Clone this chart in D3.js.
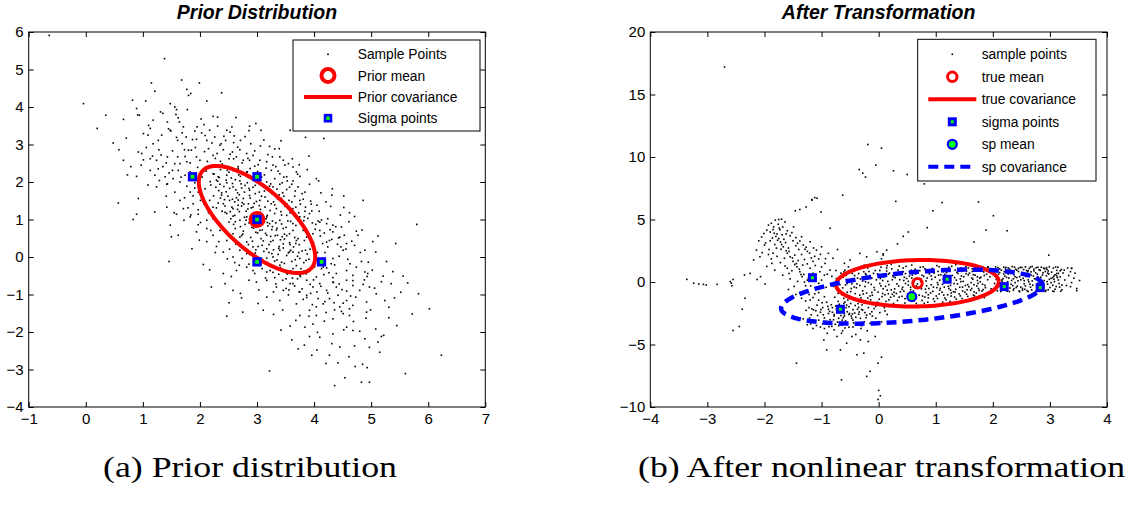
<!DOCTYPE html>
<html>
<head>
<meta charset="utf-8">
<script src="https://cdn.jsdelivr.net/npm/d3@7"></script>
<style>
    body { margin: 0; background: #fff; }
    svg { display: block; font-family: "Liberation Sans", Arial, sans-serif; }
</style>
</head>
<body>
<svg id="chart" width="1138" height="512"></svg>
<script>
// ---- panel (a): prior distribution ----
const priorSamples = [
    [1.15,4.64],[1.68,4.72],[1.99,4.64],[1.77,4.47],[1.84,4.36],[1.80,4.31],[-0.04,4.09],[0.82,4.18],[1.05,4.16],[2.12,4.16],
    [1.48,4.09],[1.56,4.00],[1.59,3.93],[1.38,5.29],[-0.64,5.91],[0.89,3.96],[0.91,3.79],
    [0.66,3.67],[0.94,3.78],[1.31,3.87],[1.35,3.83],[1.58,3.80],[2.23,3.75],[2.63,3.72],[1.18,3.65],[1.64,3.60],[1.43,3.60],[1.10,3.51],[2.98,3.56],
    [0.20,3.43],[1.13,3.43],[1.48,3.38],[1.91,3.36],[1.95,3.47],[2.03,3.31],[2.17,3.38],[2.47,3.38],[3.07,3.38],[1.01,3.29],[1.33,3.25],
    [2.60,3.23],[1.27,3.11],[1.59,3.19],[1.76,3.20],[2.12,3.11],[2.26,3.20],[2.45,3.11],[3.42,3.10],[3.85,3.19],[4.17,3.16],[0.48,3.04],
    [1.80,2.85],[1.85,2.85],[2.15,2.89],[2.35,2.98],[2.57,2.80],[2.70,2.86],[2.82,2.76],[2.96,2.83],[3.22,2.95],[0.92,2.80],[0.98,2.76],
    [0.66,2.58],[1.13,2.62],[1.24,2.58],[1.43,2.67],[1.94,2.67],[2.23,2.71],[2.30,2.76],[2.51,2.62],[2.64,2.67],[2.93,2.71],[3.40,2.67],[3.91,2.69],
    [1.56,2.49],[1.65,2.49],[1.77,2.54],[2.00,2.58],[2.76,2.58],[2.87,2.58],[3.05,2.58],[3.17,2.54],[3.28,2.45],[3.46,2.58],[3.55,2.49],[3.63,2.40],
    [1.13,2.31],[1.46,2.24],[1.62,2.31],[0.89,2.15],[1.39,2.14],[1.53,2.09],[1.74,2.18],[2.23,2.22],[2.32,2.14],[2.47,2.18],[2.58,2.31],[2.67,2.36],
    [2.82,2.27],[3.25,2.31],[3.40,2.22],[3.52,2.14],[3.69,2.27],[3.75,2.15],[4.04,2.09],
    [1.65,2.00],[1.77,1.89],[1.91,1.98],[2.09,1.82],[2.29,2.05],[2.35,1.94],[2.47,1.98],[2.58,1.87],[2.70,2.03],[2.79,1.91],[2.87,1.78],[3.17,2.00],
    [3.28,1.87],[3.40,1.94],[3.52,1.80],[3.63,2.03],[3.72,1.87],[3.84,1.73],[4.32,1.82],[1.24,1.87],[1.42,1.94],[1.56,1.73],[1.83,1.73],[1.97,1.73],
    [0.92,1.56],[1.21,1.20],[1.42,1.33],[1.65,1.51],[1.71,1.29],[1.88,1.42],[1.97,1.26],[2.06,1.60],[2.17,1.51],[2.23,1.33],[2.38,1.65],[2.41,1.42],
    [2.52,1.51],[2.58,1.29],[2.61,1.11],[2.67,1.38],[2.76,1.56],[2.85,1.42],[2.93,1.33],[3.05,1.51],[3.14,1.60],[3.25,1.42],[3.34,1.29],[3.43,1.56],
    [3.52,1.42],[3.63,1.29],[3.75,1.51],[3.85,1.33],[3.95,1.41],[4.05,1.38],[4.86,1.51],[0.57,1.44],[0.89,1.14],
    [0.83,1.00],[1.59,1.14],[1.83,1.07],[1.97,1.14],[2.12,0.98],[2.23,1.02],[2.35,0.89],[2.47,1.16],[2.58,1.09],[2.70,0.98],[2.82,1.07],[3.17,1.07],
    [3.22,0.89],[3.31,1.16],[3.40,0.98],[3.52,1.11],[3.63,0.89],[3.75,1.07],[3.92,1.16],[4.10,0.93],[4.22,0.89],[4.33,0.85],[4.48,0.80],[4.07,0.96],[5.80,0.87],
    [1.48,0.85],[1.94,0.67],[2.12,0.76],[2.23,0.58],[2.35,0.71],[2.47,0.44],[2.58,0.62],[2.70,0.53],[2.82,0.40],[3.05,0.71],[3.17,0.58],[3.28,0.44],
    [3.46,0.76],[3.57,0.62],[3.69,0.44],[3.81,0.71],[3.87,0.53],[3.98,0.62],[4.10,0.71],[4.22,0.40],[4.33,0.67],[4.45,0.53],[4.57,0.36],[4.74,0.69],[4.77,0.58],[4.27,0.44],
    [2.41,0.13],[2.58,0.00],[2.70,0.18],[2.82,0.09],[2.93,0.27],[3.17,0.22],[3.28,0.00],[3.40,0.18],[3.52,0.04],[3.63,0.13],[3.75,-0.04],[3.98,0.31],
    [4.24,0.27],[4.33,-0.04],[4.51,0.18],[4.89,0.18],[5.08,0.13],[1.46,-0.12],[2.06,-0.20],[1.50,0.54],
    [2.17,-0.34],[2.41,-0.44],[2.64,-0.36],[2.82,-0.27],[2.96,-0.44],[3.17,-0.40],[3.40,-0.22],[3.52,-0.44],[3.63,-0.31],[3.75,-0.49],[3.92,-0.36],
    [4.04,-0.53],[4.16,-0.27],[4.30,-0.18],[4.39,-0.44],[4.57,-0.36],[4.68,-0.49],[4.89,-0.40],[4.93,-0.52],[4.94,-0.44],
    [2.20,-0.80],[2.58,-0.89],[2.99,-0.67],[3.17,-0.62],[3.34,-0.80],[3.46,-0.89],[3.63,-0.71],[3.75,-0.93],[3.87,-0.62],[3.98,-0.80],[4.10,-0.71],
    [4.22,-0.89],[4.33,-0.67],[4.39,-0.80],[4.57,-0.62],[4.68,-0.76],[4.80,-0.89],[4.97,-0.80],[5.35,-0.71],[5.64,-0.69],
    [2.73,-1.09],[3.17,-1.07],[3.40,-1.16],[3.69,-1.25],[3.87,-1.02],[4.04,-1.33],[4.16,-1.25],[4.27,-1.11],[4.45,-1.33],[4.57,-1.16],[4.68,-1.29],
    [4.92,-1.20],[5.09,-0.98],[5.24,-1.16],[5.41,-1.09],[2.51,-1.22],
    [2.47,-1.58],[2.75,-1.47],[3.11,-1.42],[3.75,-1.56],[3.92,-1.42],[4.04,-1.56],[4.33,-1.65],[4.51,-1.51],[4.62,-1.56],[4.92,-1.47],[3.84,-1.87],[4.57,-1.87],
    [3.92,-2.12],[4.10,-2.14],[4.33,-2.05],[4.68,-1.96],[4.80,-1.98],[4.89,-2.18],[5.18,-2.12],[5.22,-2.09],
    [4.27,-2.62],[4.45,-2.40],[5.15,-2.54],[6.23,-2.62],[3.22,-3.04],[4.85,-2.86],[5.60,-3.11],[4.36,-3.43],[4.54,-3.22],[4.83,-3.34],[4.97,-3.34],
    [2.31,2.02],[2.42,1.88],[2.55,2.11],[2.63,1.79],[2.72,1.95],[2.85,2.12],[2.93,1.86],[3.02,2.04],[3.12,1.92],[3.21,1.78],[2.38,1.71],[2.49,1.62],
    [2.61,1.47],[2.69,1.66],[2.78,1.73],[2.88,1.57],[2.97,1.69],[3.08,1.62],[3.19,1.49],[3.27,1.68],[3.36,1.55],[3.45,1.71],[2.44,1.36],[2.53,1.21],
    [2.66,1.27],[2.74,1.45],[2.81,1.22],[2.90,1.31],[2.99,1.48],[3.06,1.19],[3.14,1.33],[3.23,1.24],[3.31,1.39],[3.42,1.21],[3.49,1.35],[3.58,1.18],
    [2.62,0.94],[2.71,0.81],[2.78,1.06],[2.86,0.91],[2.94,0.77],[3.03,0.86],[3.11,1.03],[3.19,0.83],[3.27,0.96],[3.34,0.72],[3.43,0.88],[3.51,0.79],
    [3.59,0.95],[3.68,0.84],[2.75,0.61],[2.89,0.52],[2.98,0.66],[3.07,0.49],[3.15,0.63],[3.24,0.41],[3.32,0.57],[3.41,0.46],[3.48,0.61],[3.57,0.38],
    [3.66,0.52],[3.74,0.33],[3.83,0.44],[3.02,0.28],[3.12,0.15],[3.21,0.33],[3.29,0.19],[3.37,0.07],[3.46,0.24],[3.55,0.11],[3.64,0.27],[3.71,0.02],
    [3.79,0.16],[3.88,0.08],[3.93,0.21],[3.35,-0.08],[3.48,-0.17],[3.61,-0.12],[3.69,-0.23],[3.82,-0.15],[3.91,-0.06],[2.25,2.21],[2.36,2.33],[2.51,2.26],
    [2.67,2.41],[2.88,2.36],[3.01,2.28],[3.13,2.19],[3.31,2.09],[3.44,1.98],[3.57,1.86],[3.66,1.62],[3.76,1.41],[3.84,1.22],[3.89,1.03],[3.97,0.91],
    [4.02,0.74],[4.11,0.56],[4.15,0.36],[4.19,0.12],[4.08,-0.05],[4.13,-0.31],[4.26,-0.42],[4.36,-0.21],[4.44,0.02],[4.41,0.34],[2.15,1.18],[2.07,1.41],
    [2.01,0.92],[1.88,1.63],[1.79,1.31],[1.72,0.98],[2.19,0.71],[2.33,0.41],[2.27,0.12],[2.52,0.21],[2.61,-0.15],[2.74,-0.04],[2.86,-0.19],[3.01,-0.08],
    [3.09,-0.31],[3.22,-0.21],[3.31,-0.55],[3.45,-0.62],[3.58,-0.71],[3.71,-0.58],[3.86,-0.45],[3.99,-0.61],[4.05,-0.93],[3.81,-1.13],[3.55,-1.01],[3.29,-0.93],
    [3.03,-0.88],[2.86,-0.62],[2.55,-0.52],[1.99,0.45],[1.86,0.22],[1.62,0.58],[1.55,1.18],[1.41,1.62],[1.35,2.41],[1.21,2.18],[1.09,1.92],[0.97,2.45],
    [1.28,2.86],[1.69,3.02],[1.94,3.14],[2.13,2.55],[2.41,2.86],[2.59,3.05],[2.79,3.21],[3.06,2.96],[3.27,2.67],[3.49,2.45],[3.71,2.21],[3.92,1.94],
    [4.12,1.71],[4.29,1.35],[4.46,1.12],[4.61,0.94],[4.71,0.31],[4.83,-0.12],[4.63,-0.18],[5.02,-0.35],[5.21,-0.51],[4.99,-1.41],[4.42,-1.02],[4.21,-1.48],
    [3.68,-1.69],[3.45,-1.41],[3.98,-1.79],[4.69,-1.72],[4.31,-2.31],[4.05,-2.48],[3.61,-2.21],[4.61,-2.66],[4.93,-2.95],[5.45,-1.83],[5.72,-1.52],[6.02,-1.38],
    [2.14,2.37],[2.27,2.63],[2.39,2.48],[2.46,2.05],[2.53,2.74],[2.68,2.19],[2.74,2.51],[2.83,1.98],[2.96,2.42],[3.04,1.73],[3.16,2.37],[3.24,1.95],
    [3.33,2.41],[3.39,1.66],[3.47,2.13],[3.56,1.51],[3.61,1.94],[3.68,1.33],[3.79,1.69],[3.83,1.07],[3.94,1.49],[4.03,0.87],[4.09,1.22],[4.18,0.64],
    [4.24,1.02],[4.31,0.47],[4.38,0.81],[4.47,0.27],[4.53,0.58],[4.59,-0.06],[4.66,0.42],[4.74,-0.27],[4.81,0.12],[4.88,-0.61],[4.95,-0.14],[5.06,-0.83],
    [1.74,2.68],[1.83,2.27],[1.92,2.92],[2.04,2.13],[2.08,2.81],[2.19,1.92],[2.21,3.04],[2.33,1.77],[2.42,3.22],[2.57,1.54],[2.66,2.93],[2.73,1.36],
    [2.84,2.63],[2.91,1.14],[3.02,2.46],[3.13,0.95],[3.19,2.73],[3.26,0.73],[3.37,2.29],[3.44,0.54],[3.53,2.03],[3.58,0.33],[3.67,1.76],[3.73,0.12],
    [3.81,1.54],[3.86,-0.09],[3.96,1.23],[4.01,-0.26],[4.13,0.99],[4.17,-0.47],[4.28,0.73],[4.34,-0.68],[4.43,0.51],[4.49,-0.87],[4.56,0.21],[4.64,-1.04],
    [2.36,1.57],[2.44,1.19],[2.52,1.83],[2.59,0.87],[2.67,1.52],[2.76,0.69],[2.84,1.28],[2.92,0.42],[3.01,1.11],[3.09,0.31],[3.18,0.92],[3.26,0.09],
    [3.35,0.77],[3.43,-0.14],[3.52,0.57],[3.59,-0.37],[3.68,0.36],[3.76,-0.52],[3.85,0.18],[3.93,-0.73],[2.29,1.31],[2.41,0.72],[2.54,1.02],[2.63,0.34],
    [2.79,0.87],[2.87,0.07],[2.98,0.19],[3.07,-0.19],[3.17,-0.03],[3.28,-0.41],[3.39,0.28],[3.51,-0.84],[3.62,-0.56],[3.74,-0.93],[3.87,-1.08],[3.97,-1.27],
    [1.49,3.36],[1.62,3.71],[1.71,3.47],[1.78,3.93],[1.87,3.13],[2.02,3.68],[2.09,3.24],[2.31,3.49],[2.37,3.02],[2.53,3.33],[2.71,3.11],[2.89,3.02],
    [1.32,2.72],[1.18,3.02],[1.06,2.92],[1.52,2.31],[1.61,2.67],[1.27,2.35],[1.43,1.95],[1.67,2.13],[1.73,1.58],[1.91,1.84],[2.01,1.51],[2.11,2.29],
    [4.12,-0.78],[4.24,-0.96],[4.35,-1.22],[4.48,-1.45],[4.62,-1.38],[4.73,-1.07],[4.86,-0.73],[4.91,-1.63],[4.52,-1.94],[4.18,-1.71],[3.91,-1.58],[4.06,-2.01],
    [3.56,-0.88],[3.33,-0.72],[3.15,-0.56],[2.93,-0.36],[2.69,-0.22],[2.48,-0.05],[2.29,0.28],[2.12,0.41],[1.97,0.86],[1.84,1.12],[2.44,-0.71],[2.71,-0.97],
    [3.02,-1.24],[3.29,-1.53],[3.58,-1.84],[3.83,-2.35],[4.42,-2.82],[4.71,-2.37],[5.08,-1.92],[5.31,-1.34],[5.18,-0.66],[5.52,-0.94],[5.03,0.41],[4.62,1.18],
    [4.21,1.47],[3.74,2.46],[3.31,2.88],[2.86,3.37],[0.73,2.19],[0.58,2.86],[0.35,3.78],[1.21,4.42],[2.38,4.38],[3.58,3.38],[4.52,1.63],[5.43,0.36],
    [2.46,1.74],[2.57,1.96],[2.64,1.58],[2.71,2.15],[2.77,1.41],[2.86,1.83],[2.92,1.02],[2.97,1.91],[3.04,1.37],[3.09,0.72],[3.13,1.76],[3.18,1.11],
    [3.24,0.55],[3.29,1.47],[3.33,0.91],[3.38,0.23],[3.43,1.12],[3.48,0.48],[3.54,0.96],[3.59,0.18],[3.63,0.71],[3.67,-0.07],[3.72,0.49],[3.77,-0.31],
    [2.34,2.12],[2.43,1.53],[2.51,2.41],[2.56,1.33],[2.62,2.06],[2.69,1.21],[2.73,1.84],[2.81,0.98],[2.87,1.64],[2.91,0.79],[2.95,1.43],[3.01,0.64],
    [3.06,1.27],[3.11,0.43],[3.16,1.02],[3.21,0.12],[3.27,0.81],[3.31,-0.11],[3.36,0.58],[3.41,-0.28],[3.46,0.35],[3.53,-0.45],[3.57,0.14],[3.65,-0.42],
    [2.21,2.44],[2.28,1.86],[2.36,2.55],[2.48,2.31],[2.59,2.62],[2.66,1.71],[2.83,2.27],[2.94,2.09],[3.08,2.13],[3.22,1.89],[3.35,1.81],[3.47,1.62],
    [3.61,1.47],[3.73,1.18],[3.82,0.97],[3.91,0.61],[3.99,0.39],[4.06,0.12],[4.14,-0.12],[4.22,-0.29],[4.33,-0.55],[4.44,-0.72],[4.57,-0.91],[4.68,-0.63],
    [2.18,2.01],[2.24,1.63],[2.32,1.44],[2.39,1.22],[2.51,0.93],[2.62,0.76],[2.73,0.57],[2.85,0.33],[2.97,0.11],[3.08,-0.04],[3.23,-0.36],[3.38,-0.46],
    [3.51,-0.58],[3.66,-0.77],[3.79,-0.85],[3.94,-0.97],[4.07,-1.11],[4.19,-1.19],[4.36,-1.41],[4.51,-1.23],[1.96,2.39],[1.83,2.51],[1.73,2.86],[1.61,3.11],
    [1.52,2.83],[1.41,2.51],[1.29,2.04],[1.17,2.69],[1.01,2.59],[0.79,2.41],[0.71,3.17],[1.09,3.25],[1.45,3.42],[1.69,3.31],[2.07,3.53],[2.31,3.73],
    [2.56,3.47],[2.87,3.49],[3.12,3.12],[3.39,2.89],[3.62,2.62],[3.88,2.33],[4.08,2.03],[4.31,1.65],[4.52,1.32],[4.71,1.08],[4.84,0.72],[5.12,0.56],
    [5.27,-0.12],[5.38,-0.39],[5.56,-0.51],[5.83,-0.98],[5.31,-1.62],[5.12,-2.27],[4.97,-2.41],[4.72,-2.92],[4.21,-2.84],[3.96,-2.62],[3.72,-2.45],[3.42,-1.95]
];
const priorMean = [3, 1];
const priorCov = [[1.04, -1.02], [-1.02, 2.04]];
const priorSigma = [[3, 1], [1.87, 2.14], [3, 2.14], [3, -0.13], [4.13, -0.13]];

// ---- panel (b): after the nonlinear transformation ----
const transSamples = [
    // sparse outliers
    [-2.70,17.2],[-0.19,11.0],[0.05,10.7],[-0.34,9.0],[-0.28,8.7],[-0.23,8.4],[-0.05,9.35],[0.26,8.9],[0.50,8.6],[0.80,7.85],
    [-0.63,6.95],[-1.12,6.75],[-1.17,6.6],[0.30,6.45],[1.11,6.35],[1.75,6.4],[0.95,5.7],[2.01,5.3],[1.88,4.15],[2.25,4.1],
    [0.85,4.35],[0.33,3.05],[0.43,3.65],[0.52,4.0],[1.67,3.2],[2.98,2.15],[3.38,1.1],[-1.46,5.7],[-1.38,5.8],[-1.27,6.0],
    [-1.17,6.55],[-1.08,6.7],[-1.01,5.6],[-0.85,4.3],
    [-3.36,0.21],[-3.24,-0.1],[-3.15,-0.16],[-3.07,-0.19],[-3.02,-0.24],[-2.83,-0.19],[-2.6,0.03],[-2.58,-0.1],[-2.57,-0.3],[-2.55,0.2],
    [-2.35,0.56],[-2.25,0.69],[-2.07,0.43],[-1.99,-0.16],[-2.13,0.2],[-2.34,-1.3],[-2.39,-2.18],[-2.44,-3.56],[-2.55,-3.88],[-1.87,1.49],
    [-1.44,-6.49],[-0.65,-7.82],[0.0,-8.67],[0.03,-9.1],[-0.01,-9.4],[-0.21,-7.55],[-0.15,-7.15],[0.05,-6.01],[-0.01,-6.49],[-0.26,-5.69],
    [-0.38,-5.82],[-0.67,-5.43],[-0.56,-4.89],[-0.32,-4.63],[-0.96,-4.63],[-0.91,-5.43],[-0.73,-4.36],[-0.47,-4.36],[-0.18,-4.76],[-0.06,-4.36],
    [-0.33,2.29],[-0.21,2.02],[-0.03,2.42],[0.08,2.15],[0.14,2.55],[-0.5,1.76],
    [3.18,0.90],[3.12,0.48],[3.36,-0.37],[3.47,-0.69],[3.21,-0.24],[3.38,1.09],
    // dense band on the right
    [1.92,1.18],[1.95,0.42],[1.97,-0.55],[2.01,0.87],[2.03,-0.12],[2.05,1.21],[2.06,0.21],[2.08,-0.71],[2.10,0.63],[2.12,1.05],
    [2.13,-0.38],[2.15,0.95],[2.16,0.05],[2.18,-0.62],[2.19,1.19],[2.21,0.48],[2.22,-0.21],[2.24,0.78],[2.25,-0.74],[2.27,1.12],
    [2.28,0.31],[2.30,-0.48],[2.31,0.92],[2.33,0.12],[2.34,1.23],[2.36,-0.66],[2.37,0.57],[2.39,-0.05],[2.40,1.02],[2.42,0.36],
    [2.43,-0.33],[2.45,0.84],[2.46,-0.72],[2.48,1.17],[2.49,0.18],[2.51,0.67],[2.52,-0.52],[2.54,0.99],[2.55,-0.14],[2.57,1.21],
    [2.58,0.44],[2.60,-0.69],[2.61,0.81],[2.63,0.02],[2.64,1.09],[2.66,-0.41],[2.67,0.55],[2.69,1.24],[2.70,-0.25],[2.72,0.89],
    [2.73,0.26],[2.75,-0.75],[2.76,1.14],[2.78,0.62],[2.79,-0.09],[2.81,0.97],[2.82,-0.58],[2.84,0.38],[2.85,1.19],[2.87,-0.31],
    [2.88,0.74],[2.90,0.11],[2.91,1.06],[2.93,-0.67],[2.94,0.49],[2.96,-0.18],[2.97,0.88],[2.99,1.22],[3.00,-0.44],[3.02,0.29],
    [3.03,0.79],[3.05,-0.73],[3.06,1.11],[3.08,0.03],[3.09,0.58],[3.11,-0.36],[3.12,0.93],[3.14,1.18],[3.16,-0.12],[3.18,0.41],
    [3.21,-0.62],[3.23,0.72],[3.26,0.16],[3.29,-0.28],[3.33,0.52],[3.38,-0.05],[3.42,0.31],[3.47,-0.52],[3.52,0.12],[3.25,0.95],
    [3.31,1.12],[3.36,0.83],[3.44,0.71],[2.04,0.69],[2.11,-0.05],[2.20,0.83],[2.26,0.02],[2.35,0.71],[2.44,0.09],[2.53,0.29],
    [2.62,0.91],[2.71,0.48],[2.80,0.19],[2.89,-0.48],[2.98,0.64],[3.07,0.22],[3.15,0.69],[2.09,1.15],[2.23,1.17],[2.38,1.19],
    [2.51,1.16],[2.66,1.20],[2.79,1.18],[2.94,1.15],[3.10,1.20],[2.14,-0.76],[2.29,-0.77],[2.47,-0.78],[2.62,-0.76],[2.77,-0.77],
    [2.92,-0.75],[3.07,-0.76],[3.19,-0.74],
    [2.07,0.34],[2.17,-0.27],[2.27,0.64],[2.37,-0.53],[2.47,0.42],[2.57,-0.31],[2.67,0.81],[2.77,-0.45],[2.87,0.56],[2.97,-0.62],
    [3.07,0.47],[3.17,-0.41],[2.12,0.76],[2.22,1.04],[2.32,-0.18],[2.42,0.95],[2.52,-0.66],[2.62,0.17],[2.72,1.03],[2.82,-0.22],
    [2.92,0.84],[3.02,-0.05],[3.12,0.68],[2.18,0.27],[2.41,-0.44],[2.59,0.63],[2.83,0.93],[3.05,0.35],[2.68,-0.63],[2.95,0.03],
    [2.03,0.58],[2.14,-0.52],[2.24,0.37],[2.35,-0.29],[2.45,1.09],[2.55,0.11],[2.65,-0.18],[2.75,0.73],[2.85,-0.66],[2.95,1.01],
    [3.05,-0.26],[3.15,0.16],[2.09,-0.33],[2.19,0.64],[2.29,1.04],[2.39,0.42],[2.49,-0.41],[2.59,0.92],[2.69,0.08],[2.79,0.41],
    [2.89,1.11],[2.99,0.21],[3.09,-0.58],[3.2,0.99],[2.16,0.17],[2.36,0.26],[2.56,-0.58],[2.76,0.28],[2.96,0.71],[3.13,0.35],
    // middle of the cloud
    [-0.82,0.45],[-0.79,-0.35],[-0.77,-1.22],[-0.81,-2.05],[-0.75,0.92],[-0.78,-2.6],
    [-0.72,0.12],[-0.69,-0.68],[-0.71,-1.55],[-0.66,0.71],[-0.68,-2.35],[-0.64,-1.02],[-0.70,-2.9],
    [-0.62,0.38],[-0.58,-0.24],[-0.61,-1.31],[-0.56,-1.85],[-0.59,0.95],[-0.55,-0.82],[-0.6,-2.55],
    [-0.52,0.15],[-0.48,-0.52],[-0.51,-1.12],[-0.46,0.68],[-0.49,-1.72],[-0.45,-2.21],[-0.53,1.21],
    [-0.42,0.51],[-0.38,-0.15],[-0.41,-0.93],[-0.36,-1.48],[-0.39,1.02],[-0.35,-2.02],[-0.43,-0.4],
    [-0.32,0.24],[-0.28,-0.71],[-0.31,-1.26],[-0.26,0.82],[-0.29,-1.83],[-0.25,1.35],[-0.33,-0.28],
    [-0.22,0.58],[-0.18,-0.05],[-0.21,-0.88],[-0.16,-1.61],[-0.19,1.12],[-0.15,-1.12],[-0.23,0.02],
    [-0.12,0.31],[-0.08,-0.44],[-0.11,-1.05],[-0.06,0.92],[-0.09,-1.71],[-0.05,1.48],[-0.13,-0.19],
    [-0.02,0.65],[0.02,-0.12],[-0.01,-0.81],[0.04,1.18],[0.01,-1.38],[0.05,1.85],[0.03,0.28],[0.08,2.25],[0.12,1.62],
    [0.09,0.42],[0.12,-0.35],[0.11,-1.02],[0.14,0.88],[0.13,-1.55],[0.16,0.05],[0.15,1.31],
    [0.19,0.71],[0.22,-0.62],[0.21,-1.22],[0.24,0.18],[0.23,1.05],[0.26,-1.72],[0.18,-0.21],
    [0.29,0.35],[0.32,-0.15],[0.31,-0.92],[0.34,0.95],[0.33,-1.48],[0.36,1.28],[0.28,-0.55],
    [0.39,0.61],[0.42,-0.42],[0.41,-1.15],[0.44,0.12],[0.43,1.12],[0.46,-1.68],[0.38,-0.78],
    [0.49,0.28],[0.52,-0.25],[0.51,-0.95],[0.54,0.82],[0.53,-1.42],[0.48,1.25],[0.56,-0.61],
    [0.59,0.55],[0.62,0.02],[0.61,-0.72],[0.64,1.02],[0.63,-1.25],[0.66,-1.71],[0.58,0.31],
    [0.69,0.78],[0.72,-0.38],[0.71,-1.05],[0.74,0.25],[0.73,1.18],[0.76,-1.48],[0.68,-0.15],
    [0.79,0.45],[0.82,-0.58],[0.81,-1.21],[0.84,0.92],[0.83,0.08],[0.86,-1.62],[0.78,1.21],
    [0.89,0.65],[0.92,-0.22],[0.91,-0.88],[0.94,1.08],[0.93,0.21],[0.96,-1.35],[0.88,-0.52],
    [0.99,0.38],[1.02,-0.45],[1.01,-1.12],[1.04,0.85],[1.03,-0.05],[1.06,1.22],[0.98,-1.55],
    [1.09,0.58],[1.12,-0.18],[1.11,-0.82],[1.14,1.05],[1.13,0.22],[1.16,-1.28],[1.08,-0.51],
    [1.19,0.75],[1.22,-0.35],[1.21,-1.02],[1.24,0.41],[1.23,1.18],[1.26,-0.65],[1.18,-1.42],
    [1.29,0.52],[1.32,-0.12],[1.31,-0.78],[1.34,0.95],[1.33,-1.21],[1.36,0.15],[1.28,1.25],
    [1.39,0.68],[1.42,-0.42],[1.41,-0.95],[1.44,1.12],[1.43,0.25],[1.46,-1.32],[1.38,-0.15],
    [1.49,0.42],[1.52,-0.28],[1.51,-0.82],[1.54,0.88],[1.53,1.22],[1.56,-1.15],[1.48,0.05],
    [1.59,0.71],[1.62,-0.05],[1.61,-0.65],[1.64,1.05],[1.63,0.32],[1.66,-1.05],[1.58,-0.38],
    [1.69,0.55],[1.72,-0.32],[1.71,-0.88],[1.74,0.92],[1.73,0.12],[1.76,1.21],[1.68,-1.12],
    [1.79,0.38],[1.82,-0.18],[1.81,-0.72],[1.84,0.81],[1.83,1.15],[1.86,-0.95],[1.78,0.02],
    [1.89,0.62],[1.87,-0.45],[1.91,0.18],[1.93,-0.82],[1.88,1.02],
    [0.05,0.45],[0.15,-0.65],[0.25,0.52],[0.35,-0.32],[0.45,0.38],[0.55,-0.82],[0.65,0.65],[0.75,-0.55],[0.85,0.32],[0.95,-0.75],
    [1.05,0.55],[1.15,-0.42],[1.25,0.18],[1.35,-0.58],[1.45,0.48],[1.55,-0.62],[1.65,0.22],[1.75,-0.52],[0.07,-0.92],[0.27,-1.12],
    [0.47,-0.12],[0.67,-0.42],[0.87,-1.02],[1.07,0.15],[1.27,-0.88],[1.47,-0.72],[1.67,-0.22],[-0.15,0.45],[-0.35,0.68],[-0.55,-0.12],
    [0.22,1.42],[0.58,1.35],[1.02,1.31],[1.35,1.38],[-0.05,-1.95],[0.32,-1.92],[0.68,-1.88],[1.12,-1.61],[1.52,-1.45],[1.85,-1.25],
    [-0.74,0.28],[-0.63,-0.47],[-0.57,0.52],[-0.44,-1.31],[-0.37,0.31],[-0.27,-0.96],[-0.17,0.84],[-0.07,-0.63],[0.06,-1.17],[0.17,0.62],
    [0.27,-0.82],[0.37,0.18],[0.46,-1.33],[0.57,0.94],[0.66,-0.31],[0.76,0.54],[0.87,-1.27],[0.97,0.71],[1.07,-0.66],[1.17,0.42],
    [1.27,-1.12],[1.37,0.77],[1.47,-0.41],[1.57,0.57],[1.67,-0.78],[1.77,0.31],[1.86,-0.27],[-0.71,-0.91],[-0.59,-1.61],[-0.47,-0.14],
    [-0.36,-1.73],[-0.24,-0.36],[-0.14,-1.42],[-0.04,0.17],[0.08,-0.54],[0.18,-1.43],[0.31,0.72],[0.41,-0.58],[0.52,0.05],[0.62,-1.52],
    [0.72,0.91],[0.83,-0.84],[0.92,0.48],[1.03,-1.32],[1.13,0.82],[1.23,-0.53],[1.33,0.35],[1.43,-1.11],[1.53,0.67],[1.63,-0.52],
    [1.73,0.41],[1.83,-0.61],[0.02,0.92],[0.43,0.82],[0.81,1.06],[1.19,1.05],[1.57,1.12],[1.91,1.21],[-0.3,-2.2],[0.1,-2.05],
    [0.45,-1.95],[0.8,-1.7],[1.25,-1.55],[1.65,-1.3],[-0.52,-2.6],[-0.15,-2.55],
    [-0.68,-0.21],[-0.54,-1.44],[-0.43,0.09],[-0.33,-1.05],[-0.23,0.67],[-0.12,-0.83],[-0.02,-1.62],[0.07,0.12],[0.17,-0.94],[0.26,0.41],
    [0.36,-1.21],[0.47,0.67],[0.56,-0.42],[0.66,0.21],[0.77,-1.13],[0.86,0.76],[0.96,-0.41],[1.06,-0.96],[1.16,0.61],[1.26,-0.27],
    [1.36,-1.37],[1.46,0.85],[1.56,-0.21],[1.66,0.58],[1.76,-0.67],[1.85,0.52],[-0.61,0.81],[-0.49,-0.77],[-0.39,-0.46],[-0.28,0.07],
    [-0.19,-1.28],[-0.09,0.69],[0.04,-0.31],[0.14,1.12],[0.24,-0.98],[0.34,0.62],[0.44,-0.72],[0.54,0.47],[0.64,-0.98],[0.74,0.04],
    [0.84,-0.31],[0.94,0.94],[1.04,-0.21],[1.14,-1.05],[1.24,0.92],[1.34,-0.81],[1.44,0.03],[1.54,-0.97],[1.64,0.84],[1.74,-0.11],
    // lower-left tail
    [-1.28,-1.52],[-1.22,-2.05],[-1.18,-2.62],[-1.12,-3.12],[-1.08,-1.85],[-1.02,-2.42],[-0.98,-3.35],[-0.95,-2.88],[-0.91,-1.62],[-0.88,-2.18],
    [-0.85,-3.02],[-0.82,-3.55],[-0.78,-2.72],[-0.75,-1.92],[-0.72,-3.21],[-0.68,-2.02],[-0.65,-3.45],[-0.62,-2.85],[-0.58,-3.12],[-0.55,-2.38],
    [-0.52,-3.62],[-0.48,-2.72],[-0.45,-3.05],[-0.42,-2.48],[-0.38,-3.38],[-0.35,-2.58],[-0.32,-2.91],[-0.28,-2.25],[-0.25,-3.18],[-0.21,-2.65],
    [-0.18,-2.05],[-0.12,-2.38],[-0.08,-2.12],[-1.32,-2.95],[-1.25,-3.42],[-1.15,-3.72],[-1.05,-3.05],[-0.95,-3.72],[-0.88,-2.52],[-0.78,-3.82],
    [-0.71,-2.45],[-0.61,-1.72],[-0.52,-1.98],[-0.41,-1.88],[-1.15,-1.25],[-1.05,-0.85],[-0.95,-1.18],[-0.92,-0.42],[-1.0,0.15],[-0.9,0.62],
    [-0.98,-2.05],[-1.1,-2.3],[-0.7,-3.5],[-0.55,-3.3],[-0.45,-3.6],[-0.3,-3.5],[-0.15,-3.3],[-0.05,-2.9],[0.05,-3.2],[0.15,-2.6],
    [-0.65,-4.1],[-0.4,-4.2],[-0.2,-3.9],[-0.9,-4.1],
    [-1.27,-2.27],[-1.19,-3.35],[-1.07,-2.68],[-0.99,-1.66],[-0.93,-3.18],[-0.86,-2.35],[-0.79,-3.02],[-0.74,-2.15],[-0.66,-2.68],[-0.59,-3.68],
    [-0.51,-2.52],[-0.44,-3.27],[-0.37,-2.18],[-0.31,-3.72],[-0.24,-2.45],[-1.21,-2.88],[-1.02,-3.6],[-0.83,-1.82],[-0.63,-3.9],[-0.47,-2.9],
    [-0.56,0.21],[-0.46,-2.55],[-0.34,-2.4],[-0.22,-2.85],[-0.11,-2.72],[0.02,-2.45],[0.11,-2.32],[-0.64,-3.05],[-0.76,-3.38],[-0.87,-3.58],
    [-0.97,-2.62],[-1.09,-3.48],[-1.17,-2.15],[-0.89,-1.95],[-0.69,-1.78],[-0.57,-2.05],[-1.01,-2.21],[-0.81,-2.42],[-0.6,-2.72],[-0.4,-2.82],
    // hook on the upper left
    [-1.96,4.15],[-1.81,4.95],[-1.70,5.03],[-1.64,4.81],[-1.93,4.55],[-2.01,3.88],[-2.14,2.55],[-2.19,1.76],[-2.10,3.3],[-2.05,3.6],
    [-1.88,4.7],[-1.75,5.0],[-1.75,3.48],[-1.67,2.82],[-1.55,2.02],[-1.43,1.22],[-1.34,0.43],[-1.26,-0.64],[-1.20,-1.44],[-1.14,-2.23],
    [-1.78,3.85],[-1.72,3.2],[-1.62,2.5],[-1.5,1.65],[-1.38,0.82],[-1.3,0.0],[-1.85,4.2],[-1.80,3.65],[-1.70,3.0],[-1.6,2.3],
    [-1.47,1.4],[-1.36,0.6],[-1.28,-0.3],[-1.22,-1.0],[-1.9,4.0],[-1.68,4.4],[-1.6,4.1],[-1.55,3.7],[-1.5,3.3],[-1.45,2.9],
    [-1.4,2.6],[-1.35,2.2],[-1.3,1.8],[-1.25,1.45],[-1.2,1.1],[-1.15,0.7],[-1.1,0.3],[-1.05,-0.1],[-1.49,4.41],[-1.35,3.62],
    [-1.20,3.22],[-1.09,2.55],[-1.00,2.82],[-0.88,2.29],[-0.94,1.49],[-1.05,1.85],[-1.12,2.05],[-1.25,2.45],[-1.32,2.95],[-1.42,3.1],
    [-1.62,3.85],[-2.08,2.02],[-1.96,1.25],[-1.88,1.85],[-1.82,0.95],[-1.72,1.55],[-1.68,0.55],[-1.6,1.1],[-1.55,0.25],[-1.48,-0.35],
    [-1.42,0.05],[-1.38,-0.85],[-1.35,-1.3],[-1.45,-1.0],[-1.58,-0.6],[-2.0,2.95],[-1.92,2.6],[-1.85,2.3],[-1.78,2.05],[-1.9,3.3],
    [-1.82,3.0],[-1.65,1.9],[-1.52,0.9],[-1.15,1.65],[-1.0,1.2],[-0.85,0.95],[-0.95,0.55],[-1.1,-0.45],[-1.12,-0.95],[-1.05,-1.45],
    [-1.23,0.3],[-0.8,1.9],[-0.72,2.6],[-0.6,1.5],
    [-1.98,3.12],[-1.93,2.2],[-1.86,3.52],[-1.79,2.71],[-1.73,4.18],[-1.66,3.42],[-1.58,2.72],[-1.52,3.95],[-1.47,2.15],[-1.41,1.72],
    [-1.33,1.35],[-1.27,2.78],[-1.18,1.92],[-1.11,1.32],[-1.03,0.82],[-1.76,4.62],[-1.84,4.42],[-2.04,2.35],[-1.64,1.28],[-1.57,0.68],
    [-1.74,4.31],[-1.69,3.78],[-1.63,3.15],[-1.57,2.45],[-1.51,1.92],[-1.44,1.48],[-1.39,1.02],[-1.31,0.61],[-1.25,0.15],[-1.19,-0.31],
    [-1.83,3.9],[-1.77,3.34],[-1.71,2.62],[-1.45,3.55],[-1.38,3.28],[-1.29,2.62],[-1.21,2.31],[-1.14,2.72],[-1.02,2.21],[-0.93,1.87]
];
const trueMean = [0.68, -0.1];
const trueCov = [[2.03, 0.17], [0.17, 3.46]];
const transSigma = [[-1.16, 0.34], [-0.67, -2.18], [1.2, 0.22], [2.2, -0.37], [2.83, -0.45]];
const spMean = [0.58, -1.17];
const spCov = [[5.24, 2.13], [2.13, 4.67]];

// axis ranges and ticks
const priorXTicks = d3.range(-1, 8);
const priorYTicks = d3.range(-4, 7);
const transXTicks = d3.range(-4, 5);
const transYTicks = [-10, -5, 0, 5, 10, 15, 20];

const priorLegend = ['Sample Points', 'Prior mean', 'Prior covariance', 'Sigma points'];
const transLegend = ['sample points', 'true mean', 'true covariance', 'sigma points', 'sp mean', 'sp covariance'];

const captions = ['(a) Prior distribution', '(b) After nonlinear transformation'];

const RED = '#ff0000', BLUE = '#0000ff', GREEN = '#00ff00';
const svg = d3.select('#chart');

// points on the 1-sigma ellipse of a 2x2 covariance
function ellipsePoints(center, cov) {
    const a = Math.sqrt(cov[0][0]);
    const b = cov[1][0] / a;
    const c = Math.sqrt(cov[1][1] - b * b);
    return d3.range(0, 121).map(i => {
        const t = i / 120 * 2 * Math.PI;
        return [center[0] + a * Math.cos(t), center[1] + b * Math.cos(t) + c * Math.sin(t)];
    });
}

function drawSquare(g, cx, cy, side, sw) {
    g.append('rect')
        .attr('x', cx - side / 2)
        .attr('y', cy - side / 2)
        .attr('width', side)
        .attr('height', side)
        .attr('fill', GREEN)
        .attr('stroke', BLUE)
        .attr('stroke-width', sw);
}

function drawPanel(p) {
    const x = d3.scaleLinear().domain(p.xDomain).range(p.xRange);
    const y = d3.scaleLinear().domain(p.yDomain).range([407, 32]);
    const g = svg.append('g');

    // axes, ticks pointing inward on all four sides
    const fmt = d3.format('d');
    g.append('g')
        .attr('transform', 'translate(0,407)')
        .call(d3.axisBottom(x).tickValues(p.xTicks).tickFormat(fmt).tickSizeInner(-5).tickSizeOuter(0).tickPadding(6));
    g.append('g')
        .attr('transform', `translate(${p.xRange[0]},0)`)
        .call(d3.axisLeft(y).tickValues(p.yTicks).tickFormat(fmt).tickSizeInner(-5).tickSizeOuter(0).tickPadding(5));
    g.append('g')
        .attr('transform', 'translate(0,32)')
        .call(d3.axisTop(x).tickValues(p.xTicks).tickFormat('').tickSizeInner(-5).tickSizeOuter(0));
    g.append('g')
        .attr('transform', `translate(${p.xRange[1]},0)`)
        .call(d3.axisRight(y).tickValues(p.yTicks).tickFormat('').tickSizeInner(-5).tickSizeOuter(0));
    g.selectAll('.domain').remove();
    g.selectAll('.tick line').attr('stroke', '#000');
    g.selectAll('.tick text')
        .attr('fill', '#000')
        .style('font-size', '15px')
        .style('font-family', '"Liberation Sans", Arial, sans-serif');

    g.append('rect')
        .attr('x', p.xRange[0])
        .attr('y', 32)
        .attr('width', p.xRange[1] - p.xRange[0])
        .attr('height', 375)
        .attr('fill', 'none')
        .attr('stroke', '#000')
        .attr('stroke-width', 1);

    g.append('text')
        .attr('x', (p.xRange[0] + p.xRange[1]) / 2)
        .attr('y', 19)
        .attr('text-anchor', 'middle')
        .style('font-size', '19.5px')
        .style('font-weight', 'bold')
        .style('font-style', 'italic')
        .text(p.title);

    // sample points
    g.append('g')
        .selectAll('rect')
        .data(p.samples)
        .join('rect')
        .attr('x', d => x(d[0]) - 0.8)
        .attr('y', d => y(d[1]) - 0.8)
        .attr('width', 1.6)
        .attr('height', 1.6)
        .attr('fill', '#000');

    const line = d3.line().x(d => x(d[0])).y(d => y(d[1]));
    p.draw(g, x, y, line);

    // legend
    const lg = g.append('g');
    lg.append('rect')
        .attr('x', p.legend.x0)
        .attr('y', p.legend.y0)
        .attr('width', p.legend.x1 - p.legend.x0)
        .attr('height', p.legend.y1 - p.legend.y0)
        .attr('fill', '#fff')
        .attr('stroke', '#000')
        .attr('stroke-width', 1);
    p.legend.labels.forEach((label, i) => {
        const cy = p.legend.firstY + i * p.legend.step;
        p.legend.markers[i](lg, p.legend.mx, cy);
        lg.append('text')
            .attr('x', p.legend.tx)
            .attr('y', cy + 5)
            .style('font-size', '13.8px')
            .text(label);
    });
}

// legend marker helpers
const mkDot = (g, cx, cy) => g.append('rect').attr('x', cx - 0.8).attr('y', cy - 0.8)
    .attr('width', 1.6).attr('height', 1.6).attr('fill', '#000');
const mkLine = (color, dash) => (g, cx, cy) => g.append('line')
    .attr('x1', cx - 24).attr('x2', cx + 24).attr('y1', cy).attr('y2', cy)
    .attr('stroke', color).attr('stroke-width', 4)
    .attr('stroke-dasharray', dash || null);

drawPanel({
    title: 'Prior Distribution',
    xDomain: [-1, 7], yDomain: [-4, 6], xRange: [28.7, 485.3],
    xTicks: priorXTicks, yTicks: priorYTicks,
    samples: priorSamples,
    draw(g, x, y, line) {
        g.append('path')
            .attr('d', line(ellipsePoints(priorMean, priorCov)))
            .attr('fill', 'none')
            .attr('stroke', RED)
            .attr('stroke-width', 4);
        g.append('circle')
            .attr('cx', x(priorMean[0]))
            .attr('cy', y(priorMean[1]))
            .attr('r', 6.5)
            .attr('fill', 'none')
            .attr('stroke', RED)
            .attr('stroke-width', 4);
        priorSigma.forEach(d => drawSquare(g, x(d[0]), y(d[1]), 6.5, 2.8));
    },
    legend: {
        x0: 293, y0: 40, x1: 480, y1: 131,
        firstY: 54.3, step: 21.3, mx: 328, tx: 357.7,
        labels: priorLegend,
        markers: [
            mkDot,
            (g, cx, cy) => g.append('circle').attr('cx', cx).attr('cy', cy).attr('r', 6.5)
                .attr('fill', 'none').attr('stroke', RED).attr('stroke-width', 4),
            mkLine(RED),
            (g, cx, cy) => drawSquare(g, cx, cy, 6, 2.6)
        ]
    }
});

drawPanel({
    title: 'After Transformation',
    xDomain: [-4, 4], yDomain: [-10, 20], xRange: [650.3, 1107],
    xTicks: transXTicks, yTicks: transYTicks,
    samples: transSamples,
    draw(g, x, y, line) {
        g.append('path')
            .attr('d', line(ellipsePoints(trueMean, trueCov)))
            .attr('fill', 'none')
            .attr('stroke', RED)
            .attr('stroke-width', 4);
        g.append('circle')
            .attr('cx', x(trueMean[0]))
            .attr('cy', y(trueMean[1]))
            .attr('r', 4.7)
            .attr('fill', 'none')
            .attr('stroke', RED)
            .attr('stroke-width', 3);
        g.append('path')
            .attr('d', line(ellipsePoints(spMean, spCov)))
            .attr('fill', 'none')
            .attr('stroke', BLUE)
            .attr('stroke-width', 4.5)
            .attr('stroke-dasharray', '10,6');
        transSigma.forEach(d => drawSquare(g, x(d[0]), y(d[1]), 6, 3));
        g.append('circle')
            .attr('cx', x(spMean[0]))
            .attr('cy', y(spMean[1]))
            .attr('r', 4.5)
            .attr('fill', GREEN)
            .attr('stroke', BLUE)
            .attr('stroke-width', 2.2);
    },
    legend: {
        x0: 917.7, y0: 39.3, x1: 1096, y1: 181,
        firstY: 54.3, step: 22.5, mx: 952.3, tx: 981.7,
        labels: transLegend,
        markers: [
            mkDot,
            (g, cx, cy) => g.append('circle').attr('cx', cx).attr('cy', cy).attr('r', 4.7)
                .attr('fill', 'none').attr('stroke', RED).attr('stroke-width', 3),
            mkLine(RED),
            (g, cx, cy) => drawSquare(g, cx, cy, 6, 3),
            (g, cx, cy) => g.append('circle').attr('cx', cx).attr('cy', cy).attr('r', 4.5)
                .attr('fill', GREEN).attr('stroke', BLUE).attr('stroke-width', 2.2),
            mkLine(BLUE, '10,6')
        ]
    }
});

// sub-figure captions
svg.selectAll('text.caption')
    .data(captions)
    .join('text')
    .attr('class', 'caption')
    .attr('x', (d, i) => i === 0 ? 103 : 638)
    .attr('y', 477)
    .attr('textLength', (d, i) => i === 0 ? 294 : 487)
    .attr('lengthAdjust', 'spacingAndGlyphs')
    .style('font-family', '"Liberation Serif", "Times New Roman", serif')
    .style('font-size', '30px')
    .text(d => d);
</script>
</body>
</html>
